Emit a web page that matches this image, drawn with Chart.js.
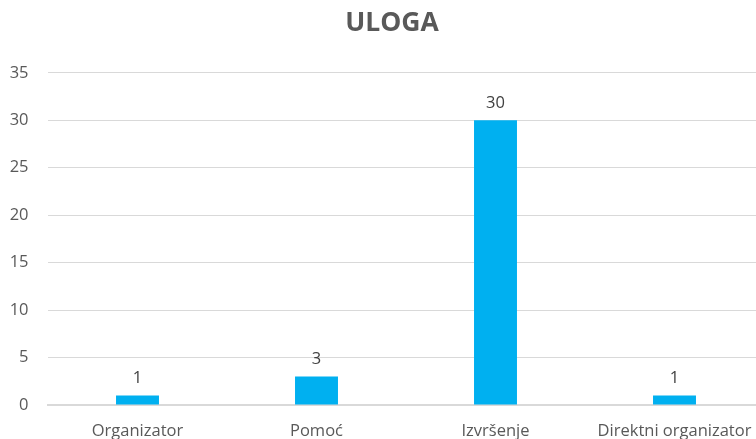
<!DOCTYPE html>
<html>
<head>
<meta charset="utf-8">
<script src="https://cdn.jsdelivr.net/npm/chart.js@4.4.1/dist/chart.umd.min.js"></script>
<style>
  html, body { margin: 0; padding: 0; background: #fff; overflow: hidden; }
  #wrap { width: 756px; height: 439px; overflow: hidden; }
</style>
</head>
<body>
<div id="wrap"><canvas id="ulogaChart" width="784" height="439"></canvas></div>
<script>
// Chart data
const categories = ['Organizator', 'Pomoć', 'Izvršenje', 'Direktni organizator'];
const values = [1, 3, 30, 1];
const yTicks = [0, 5, 10, 15, 20, 25, 30, 35];

const FONT = "'Open Sans', sans-serif";
const TEXT_COLOR = '#595959';

// value labels above each bar
const barLabels = {
    id: 'barLabels',
    afterDatasetsDraw(chart) {
        const ctx = chart.ctx;
        const meta = chart.getDatasetMeta(0);
        ctx.save();
        ctx.font = '16.5px ' + FONT;
        ctx.fillStyle = '#404040';
        ctx.textAlign = 'center';
        ctx.textBaseline = 'bottom';
        meta.data.forEach((bar, i) => {
            ctx.fillText(String(values[i]), bar.x, bar.y - 9);
        });
        ctx.restore();
    }
};

new Chart(document.getElementById('ulogaChart'), {
    type: 'bar',
    data: {
        labels: categories,
        datasets: [{
            label: 'ULOGA',
            data: values,
            backgroundColor: '#00B0F0',
            barPercentage: 0.24,
            categoryPercentage: 1
        }]
    },
    options: {
        responsive: false,
        animation: false,
        layout: { padding: 0 },
        plugins: {
            legend: { display: false },
            tooltip: { enabled: false },
            title: {
                display: true,
                text: 'ULOGA',
                color: TEXT_COLOR,
                font: { family: FONT, size: 26.5, weight: 'bold' },
                padding: { top: 8, bottom: 33 }
            }
        },
        scales: {
            y: {
                min: 0,
                max: 35,
                afterBuildTicks(scale) {
                    scale.ticks = yTicks.map(v => ({ value: v }));
                },
                afterFit(scale) { scale.width = 48; },
                border: { display: false },
                grid: { color: '#d9d9d9', lineWidth: 1, drawTicks: false },
                ticks: {
                    color: TEXT_COLOR,
                    padding: 19.5,
                    font: { family: FONT, size: 16.5 }
                }
            },
            // empty right-hand space, keeps the plot off the right edge
            yRight: {
                position: 'right',
                min: 0,
                max: 35,
                afterFit(scale) { scale.width = 20; },
                border: { display: false },
                grid: { display: false, drawTicks: false },
                ticks: { display: false }
            },
            x: {
                afterFit(scale) { scale.height = 34; },
                border: { display: true, color: '#d9d9d9', width: 2 },
                grid: { display: false, drawTicks: false },
                ticks: {
                    color: TEXT_COLOR,
                    padding: 16,
                    maxRotation: 0,
                    autoSkip: false,
                    font: { family: FONT, size: 16.5 }
                }
            }
        }
    },
    plugins: [barLabels]
});
</script>
</body>
</html>
